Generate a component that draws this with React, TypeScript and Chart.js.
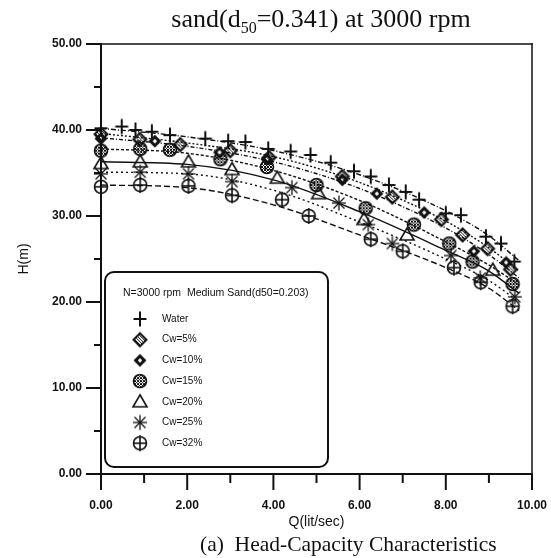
import { useEffect, useRef } from "react";
import { Chart, registerables } from "chart.js";

Chart.register(...registerables);

// Fitted head curves, sampled at these flow rates (lit/sec)
const curveQ = [0, 2, 4, 6, 8, 9, 9.7];
const curveWater = [40.2, 39.2, 37.6, 34.8, 30.6, 27.7, 24.8];
const curveCw5 = [39.6, 38.5, 36.9, 33.9, 29.4, 26.3, 23.6];
const curveCw10 = [39.1, 38.1, 36.3, 33.2, 28.6, 25.5, 22.8];
const curveCw15 = [37.8, 37.3, 35.3, 31.8, 27.0, 24.3, 22.0];
const curveCw20 = [36.3, 36.0, 34.2, 30.5, 26.0, 23.6, 21.0];
const curveCw25 = [35.1, 34.9, 33.0, 29.3, 25.0, 22.5, 20.0];
const curveCw32 = [33.6, 33.3, 31.3, 27.8, 24.0, 21.6, 19.0];

// Measured points: flow Q (lit/sec) and head H (m)
const waterQ = [0, 0.48, 0.8, 1.18, 1.6, 2.42, 2.95, 3.35, 3.88, 4.4, 4.86, 5.33, 5.87, 6.26, 6.68, 7.07, 7.38, 8.0, 8.35, 8.93, 9.28, 9.59];
const waterH = [40.2, 40.4, 40.0, 39.8, 39.4, 39.0, 38.7, 38.6, 37.8, 37.5, 37.1, 36.2, 35.2, 34.6, 33.6, 32.8, 31.9, 30.3, 30.1, 27.6, 26.8, 24.7];

const cw5Q = [0, 0.9, 1.84, 3.0, 3.9, 5.6, 6.76, 7.9, 8.39, 8.97, 9.5];
const cw5H = [39.5, 38.9, 38.3, 37.6, 36.8, 34.6, 32.2, 29.6, 27.8, 26.2, 23.8];

const cw10Q = [0, 1.25, 2.75, 3.85, 5.6, 6.4, 7.5, 8.65, 9.4];
const cw10H = [39.0, 38.7, 37.4, 36.6, 34.2, 32.6, 30.4, 25.9, 24.6];

const cw15Q = [0, 0.91, 1.6, 2.77, 3.85, 5.0, 6.14, 7.26, 8.08, 8.62, 9.55];
const cw15H = [37.6, 37.8, 37.7, 36.6, 35.7, 33.6, 30.9, 29.0, 26.8, 24.7, 22.1];

const cw20Q = [0, 0.91, 2.03, 3.04, 4.09, 5.05, 6.1, 7.1, 9.09];
const cw20H = [36.1, 36.3, 36.3, 35.4, 34.4, 32.6, 29.6, 27.8, 23.7];

const cw25Q = [0, 0.91, 2.03, 3.04, 4.43, 5.52, 6.2, 6.76, 8.12, 8.8, 9.6];
const cw25H = [34.9, 35.1, 34.9, 34.0, 33.3, 31.5, 29.0, 26.8, 25.4, 22.8, 20.6];

const cw32Q = [0, 0.91, 2.03, 3.04, 4.2, 4.82, 6.26, 7.0, 8.19, 8.81, 9.55];
const cw32H = [33.4, 33.6, 33.5, 32.4, 31.9, 30.0, 27.3, 25.9, 24.0, 22.3, 19.5];

const seriesLabels = ["Water", "Cw=5%", "Cw=10%", "Cw=15%", "Cw=20%", "Cw=25%", "Cw=32%"];

const xTickStep = 2;
const yTickStep = 10;

const INK = "#111";
const SANS = '"Liberation Sans", Arial, Helvetica, sans-serif';
const SERIF = '"Liberation Serif", "Times New Roman", serif';

type SymbolKind = "plus" | "hatchDiamond" | "solidDiamond" | "hatchCircle" | "triangle" | "asterisk" | "circlePlus";

function makeSymbol(kind: SymbolKind): HTMLCanvasElement {
  const s = 20;
  const c = document.createElement("canvas");
  c.width = s;
  c.height = s;
  const g = c.getContext("2d")!;
  g.translate(s / 2, s / 2);
  g.strokeStyle = INK;
  g.fillStyle = INK;
  g.lineWidth = 1.6;
  const seg = (x1: number, y1: number, x2: number, y2: number) => {
    g.beginPath();
    g.moveTo(x1, y1);
    g.lineTo(x2, y2);
    g.stroke();
  };
  const diamond = (r: number) => {
    g.beginPath();
    g.moveTo(0, -r);
    g.lineTo(r, 0);
    g.lineTo(0, r);
    g.lineTo(-r, 0);
    g.closePath();
  };
  const hatch = (r: number, both: boolean) => {
    g.lineWidth = 1;
    for (let k = -2 * r; k <= 2 * r; k += 3) {
      seg(k - r, -r, k + r, r);
      if (both) seg(k + r, -r, k - r, r);
    }
  };
  switch (kind) {
    case "plus":
      g.lineWidth = 2;
      seg(-6.5, 0, 6.5, 0);
      seg(0, -7.5, 0, 7.5);
      break;
    case "hatchDiamond":
      g.save();
      diamond(6.5);
      g.clip();
      hatch(7, false);
      g.restore();
      g.lineWidth = 2;
      diamond(6.5);
      g.stroke();
      break;
    case "solidDiamond":
      diamond(6.5);
      g.fill();
      g.fillStyle = "#fff";
      diamond(2.2);
      g.fill();
      break;
    case "hatchCircle":
      g.save();
      g.beginPath();
      g.arc(0, 0, 6.5, 0, Math.PI * 2);
      g.clip();
      hatch(7, true);
      g.restore();
      g.lineWidth = 1.6;
      g.beginPath();
      g.arc(0, 0, 6.5, 0, Math.PI * 2);
      g.stroke();
      break;
    case "triangle":
      g.lineWidth = 1.6;
      g.beginPath();
      g.moveTo(0, -7);
      g.lineTo(7, 5);
      g.lineTo(-7, 5);
      g.closePath();
      g.stroke();
      break;
    case "asterisk":
      g.lineWidth = 1.3;
      seg(-7, 0, 7, 0);
      seg(0, -7.5, 0, 7.5);
      seg(-5.5, -5.5, 5.5, 5.5);
      seg(-5.5, 5.5, 5.5, -5.5);
      break;
    case "circlePlus":
      g.lineWidth = 1.6;
      g.beginPath();
      g.arc(0, 0, 6.5, 0, Math.PI * 2);
      g.stroke();
      seg(-6.5, 0, 6.5, 0);
      seg(0, -8, 0, 8);
      break;
  }
  return c;
}

const toPoints = (q: number[], h: number[]) => q.map((v, i) => ({ x: v, y: h[i] }));

export default function App() {
  const canvasRef = useRef<HTMLCanvasElement | null>(null);

  useEffect(() => {
    const canvas = canvasRef.current;
    if (!canvas) return;

    const series = [
      { label: seriesLabels[0], q: waterQ, h: waterH, curve: curveWater, symbol: "plus" as SymbolKind, dash: [5, 2, 1, 2] },
      { label: seriesLabels[1], q: cw5Q, h: cw5H, curve: curveCw5, symbol: "hatchDiamond" as SymbolKind, dash: [2, 2] },
      { label: seriesLabels[2], q: cw10Q, h: cw10H, curve: curveCw10, symbol: "solidDiamond" as SymbolKind, dash: [4, 2, 1, 2] },
      { label: seriesLabels[3], q: cw15Q, h: cw15H, curve: curveCw15, symbol: "hatchCircle" as SymbolKind, dash: [3, 2] },
      { label: seriesLabels[4], q: cw20Q, h: cw20H, curve: curveCw20, symbol: "triangle" as SymbolKind, dash: [] as number[] },
      { label: seriesLabels[5], q: cw25Q, h: cw25H, curve: curveCw25, symbol: "asterisk" as SymbolKind, dash: [2, 3] },
      { label: seriesLabels[6], q: cw32Q, h: cw32H, curve: curveCw32, symbol: "circlePlus" as SymbolKind, dash: [6, 3] },
    ];
    const symbols = series.map((s) => makeSymbol(s.symbol));

    const curveSets = series.map((s) => ({
      label: s.label + " fit",
      data: toPoints(curveQ, s.curve),
      borderColor: INK,
      borderWidth: 1.4,
      borderDash: s.dash,
      pointRadius: 0,
      showLine: true,
      fill: false,
      cubicInterpolationMode: "monotone" as const,
      order: 2,
    }));
    const markerSets = series.map((s, i) => ({
      label: s.label,
      data: toPoints(s.q, s.h),
      showLine: false,
      pointStyle: symbols[i],
      pointRadius: 7,
      borderColor: INK,
      backgroundColor: INK,
      clip: false as const,
      order: 1,
    }));

    // Axis frame and tick marks
    const framePlugin = {
      id: "frame",
      beforeDatasetsDraw(chart: any) {
        const { ctx, chartArea: a, scales } = chart;
        const xs = scales.x;
        const ys = scales.y;
        ctx.save();
        ctx.strokeStyle = INK;
        ctx.lineCap = "square";
        const seg = (x1: number, y1: number, x2: number, y2: number) => {
          ctx.beginPath();
          ctx.moveTo(x1, y1);
          ctx.lineTo(x2, y2);
          ctx.stroke();
        };
        ctx.lineWidth = 1.5;
        seg(a.left, a.top, a.right, a.top);
        seg(a.right, a.top, a.right, a.bottom);
        ctx.lineWidth = 2;
        seg(a.left, a.top, a.left, a.bottom);
        seg(a.left, a.bottom, a.right, a.bottom);
        ctx.lineWidth = 2;
        for (let v = ys.min; v <= ys.max; v += yTickStep / 2) {
          const py = ys.getPixelForValue(v);
          const len = v % yTickStep === 0 ? 14 : 6;
          seg(a.left - len, py, a.left, py);
        }
        for (let v = xs.min; v <= xs.max; v += xTickStep / 2) {
          const px = xs.getPixelForValue(v);
          const len = v % xTickStep === 0 ? 15 : 8;
          seg(px, a.bottom, px, a.bottom + len);
        }
        ctx.restore();
      },
    };

    // Boxed legend inside the plot
    const legendPlugin = {
      id: "boxLegend",
      afterDraw(chart: any) {
        const { ctx } = chart;
        const left = 105;
        const top = 272;
        const w = 223;
        const h = 195;
        ctx.save();
        ctx.fillStyle = "#fff";
        ctx.strokeStyle = INK;
        ctx.lineWidth = 2;
        ctx.beginPath();
        ctx.roundRect(left, top, w, h, 9);
        ctx.fill();
        ctx.stroke();
        ctx.fillStyle = INK;
        ctx.textBaseline = "middle";
        ctx.textAlign = "left";
        ctx.font = `10.5px ${SANS}`;
        ctx.fillText("N=3000 rpm  Medium Sand(d50=0.203)", 123, 293);
        ctx.font = `10px ${SANS}`;
        series.forEach((s, i) => {
          const cy = 319 + i * 20.7;
          const img = symbols[i];
          ctx.drawImage(img, 140 - img.width / 2, cy - img.height / 2);
          ctx.fillText(s.label, 162, cy);
        });
        ctx.restore();
      },
    };

    const chart = new Chart(canvas, {
      type: "line",
      data: { datasets: [...curveSets, ...markerSets] as any },
      options: {
        animation: false,
        responsive: false,
        events: [],
        layout: { padding: { top: 44, right: 19, left: 0, bottom: 0 } },
        plugins: {
          legend: { display: false },
          tooltip: { enabled: false },
          title: { display: false },
        },
        scales: {
          x: {
            type: "linear",
            min: 0,
            max: 10,
            afterFit: (s: any) => {
              s.height = 84;
              s.paddingLeft = 0;
              s.paddingRight = 0;
            },
            grid: { display: false, drawTicks: false },
            border: { display: false },
            ticks: {
              stepSize: xTickStep,
              padding: 24,
              color: INK,
              maxRotation: 0,
              autoSkip: false,
              font: { family: SANS, size: 12, weight: "bold" },
              callback: (v: any) => Number(v).toFixed(2),
            },
            title: {
              display: true,
              text: "Q(lit/sec)",
              color: INK,
              font: { family: SANS, size: 14 },
              padding: { top: 0, bottom: 27 },
            },
          },
          y: {
            type: "linear",
            min: 0,
            max: 50,
            afterFit: (s: any) => {
              s.width = 101;
              s.paddingTop = 0;
              s.paddingBottom = 0;
            },
            grid: { display: false, drawTicks: false },
            border: { display: false },
            ticks: {
              stepSize: yTickStep,
              padding: 19,
              color: INK,
              font: { family: SANS, size: 12, weight: "bold" },
              callback: (v: any) => Number(v).toFixed(2),
            },
            title: {
              display: true,
              text: "H(m)",
              color: INK,
              font: { family: SANS, size: 14 },
              padding: { top: 16, bottom: 0 },
            },
          },
        },
      },
      plugins: [framePlugin, legendPlugin],
    });

    return () => chart.destroy();
  }, []);

  return (
    <div style={{ position: "absolute", left: 0, top: 0, width: 551, height: 558, background: "#fff", overflow: "hidden" }}>
      <canvas ref={canvasRef} width={551} height={558} style={{ display: "block", width: 551, height: 558 }} />
      <div
        style={{
          position: "absolute",
          left: 121,
          top: 6,
          width: 400,
          textAlign: "center",
          fontFamily: SERIF,
          fontSize: 26,
          lineHeight: "26px",
          color: INK,
          whiteSpace: "nowrap",
        }}
      >
        sand(d<sub style={{ fontSize: 16, lineHeight: 0 }}>50</sub>=0.341) at 3000 rpm
      </div>
      <div
        style={{
          position: "absolute",
          left: 200,
          top: 534,
          fontFamily: SERIF,
          fontSize: 21.5,
          lineHeight: "21px",
          color: INK,
          whiteSpace: "pre",
        }}
      >
        {"(a)  Head-Capacity Characteristics"}
      </div>
    </div>
  );
}
